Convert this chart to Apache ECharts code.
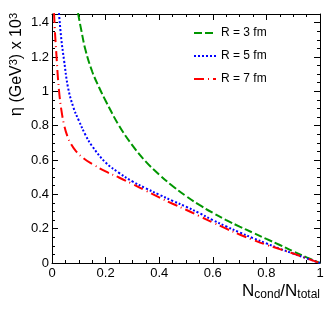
<!DOCTYPE html>
<html>
<head>
<meta charset="utf-8">
<script src="https://cdn.jsdelivr.net/npm/echarts@6/dist/echarts.min.js"></script>
<style>html,body{margin:0;padding:0;background:#fff;}#c{width:331px;height:316px;}</style>
</head>
<body>
<div id="c"></div>
<script>
var seriesNames = ['R = 3 fm', 'R = 5 fm', 'R = 7 fm'];
var xTickLabels = ['0', '0.2', '0.4', '0.6', '0.8', '1'];
var yTickLabels = ['0', '0.2', '0.4', '0.6', '0.8', '1', '1.2', '1.4'];

var r3X = [0.097, 0.11, 0.125, 0.15, 0.175, 0.2, 0.25, 0.3, 0.35, 0.4, 0.45, 0.5, 0.55, 0.6, 0.65, 0.7, 0.75, 0.8, 0.85, 0.9, 0.95, 1.0];
var r3Y = [1.455, 1.35, 1.24, 1.115, 1.025, 0.945, 0.80, 0.685, 0.59, 0.515, 0.448, 0.39, 0.338, 0.292, 0.25, 0.212, 0.176, 0.14, 0.105, 0.068, 0.033, 0.0];

var r5X = [0.026, 0.035, 0.045, 0.06, 0.08, 0.1, 0.125, 0.15, 0.2, 0.25, 0.3, 0.35, 0.4, 0.45, 0.5, 0.55, 0.6, 0.65, 0.7, 0.75, 0.8, 0.85, 0.9, 0.95, 1.0];
var r5Y = [1.455, 1.30, 1.18, 1.02, 0.905, 0.83, 0.745, 0.68, 0.585, 0.525, 0.475, 0.435, 0.398, 0.362, 0.328, 0.290, 0.250, 0.213, 0.178, 0.145, 0.114, 0.083, 0.055, 0.027, 0.0];

var r7X = [0.0075, 0.012, 0.017, 0.022, 0.028, 0.035, 0.045, 0.057, 0.07, 0.09, 0.12, 0.15, 0.2, 0.25, 0.3, 0.35, 0.4, 0.45, 0.5, 0.55, 0.6, 0.65, 0.7, 0.75, 0.8, 0.85, 0.9, 0.95, 1.0];
var r7Y = [1.455, 1.32, 1.2, 1.08, 0.975, 0.89, 0.805, 0.74, 0.695, 0.65, 0.607, 0.577, 0.533, 0.498, 0.46, 0.421, 0.382, 0.345, 0.31, 0.273, 0.236, 0.2, 0.166, 0.135, 0.106, 0.081, 0.055, 0.027, 0.0];

function pairs(xs, ys) { return xs.map(function (x, i) { return [x, ys[i]]; }); }

var FONT = 'Liberation Sans';
var chart = echarts.init(document.getElementById('c'), null, { renderer: 'canvas' });

var tickStyle = { show: true, inside: true, length: 6, lineStyle: { color: '#000', width: 1 } };
var minorStyle = { show: true, splitNumber: 4, length: 3, lineStyle: { color: '#000', width: 1 } };
var lineAx = { show: true, onZero: false, lineStyle: { color: '#000', width: 1 } };

chart.setOption({
  animation: false,
  backgroundColor: '#fff',
  grid: { left: 52, right: 11, top: 14, bottom: 53, containLabel: false },
  legend: {
    orient: 'vertical',
    left: 193, top: 27, padding: 0,
    itemWidth: 22, itemHeight: 14, itemGap: 11,
    data: seriesNames,
    itemStyle: { opacity: 0 },
    textStyle: { fontFamily: FONT, fontSize: 12, color: '#000' }
  },
  xAxis: [{
    type: 'value', min: 0, max: 1, interval: 0.2, position: 'bottom',
    axisLine: lineAx, axisTick: tickStyle, minorTick: minorStyle,
    splitLine: { show: false },
    axisLabel: { margin: 4, fontFamily: FONT, fontSize: 13, color: '#000',
      formatter: function (v) { return xTickLabels[Math.round(v / 0.2)]; } },
    name: '{a|N}{b|cond}{a|/N}{b|total}',
    nameLocation: 'end', nameGap: 0,
    nameTextStyle: { align: 'right', verticalAlign: 'top', padding: [18, 0, 0, 0],
      rich: {
        a: { fontFamily: FONT, fontSize: 17, color: '#000', lineHeight: 20 },
        b: { fontFamily: FONT, fontSize: 12, color: '#000', lineHeight: 8, verticalAlign: 'bottom' }
      } }
  }, {
    type: 'value', min: 0, max: 1, interval: 0.2, position: 'top',
    axisLine: lineAx, axisTick: tickStyle, minorTick: minorStyle,
    splitLine: { show: false }, axisLabel: { show: false }
  }],
  yAxis: [{
    type: 'value', min: 0, max: 1.45, interval: 0.2, position: 'left',
    axisLine: lineAx, axisTick: tickStyle, minorTick: minorStyle,
    splitLine: { show: false },
    axisLabel: { margin: 3, showMaxLabel: false, fontFamily: FONT, fontSize: 13, color: '#000',
      formatter: function (v) { var i = Math.round(v / 0.2); return Math.abs(v - i * 0.2) < 1e-6 ? yTickLabels[i] : ''; } },
    name: '{a|η (GeV}{s|3}{a|) x 10}{s|3}',
    nameLocation: 'end', nameRotate: 90, nameGap: 1,
    nameTextStyle: { align: 'right', verticalAlign: 'bottom', padding: [0, 0, 26, 0],
      rich: {
        a: { fontFamily: FONT, fontSize: 16, color: '#000', lineHeight: 18 },
        s: { fontFamily: FONT, fontSize: 11, color: '#000', lineHeight: 7, verticalAlign: 'top' }
      } }
  }, {
    type: 'value', min: 0, max: 1.45, interval: 0.2, position: 'right',
    axisLine: lineAx, axisTick: tickStyle, minorTick: minorStyle,
    splitLine: { show: false }, axisLabel: { show: false }
  }],
  series: [{
    name: seriesNames[0], type: 'line', data: pairs(r3X, r3Y),
    symbol: 'none', smooth: 0.4, clip: true,
    lineStyle: { color: '#009600', width: 2, type: [8, 3] }, itemStyle: { color: '#009600' }
  }, {
    name: seriesNames[1], type: 'line', data: pairs(r5X, r5Y),
    symbol: 'none', smooth: 0.4, clip: true,
    lineStyle: { color: '#0000ff', width: 2, type: [2, 2] }, itemStyle: { color: '#0000ff' }
  }, {
    name: seriesNames[2], type: 'line', data: pairs(r7X, r7Y),
    symbol: 'none', smooth: 0.4, clip: true,
    lineStyle: { color: '#ff0000', width: 2, type: [10, 4, 1, 4] }, itemStyle: { color: '#ff0000' }
  }]
});
</script>
</body>
</html>
